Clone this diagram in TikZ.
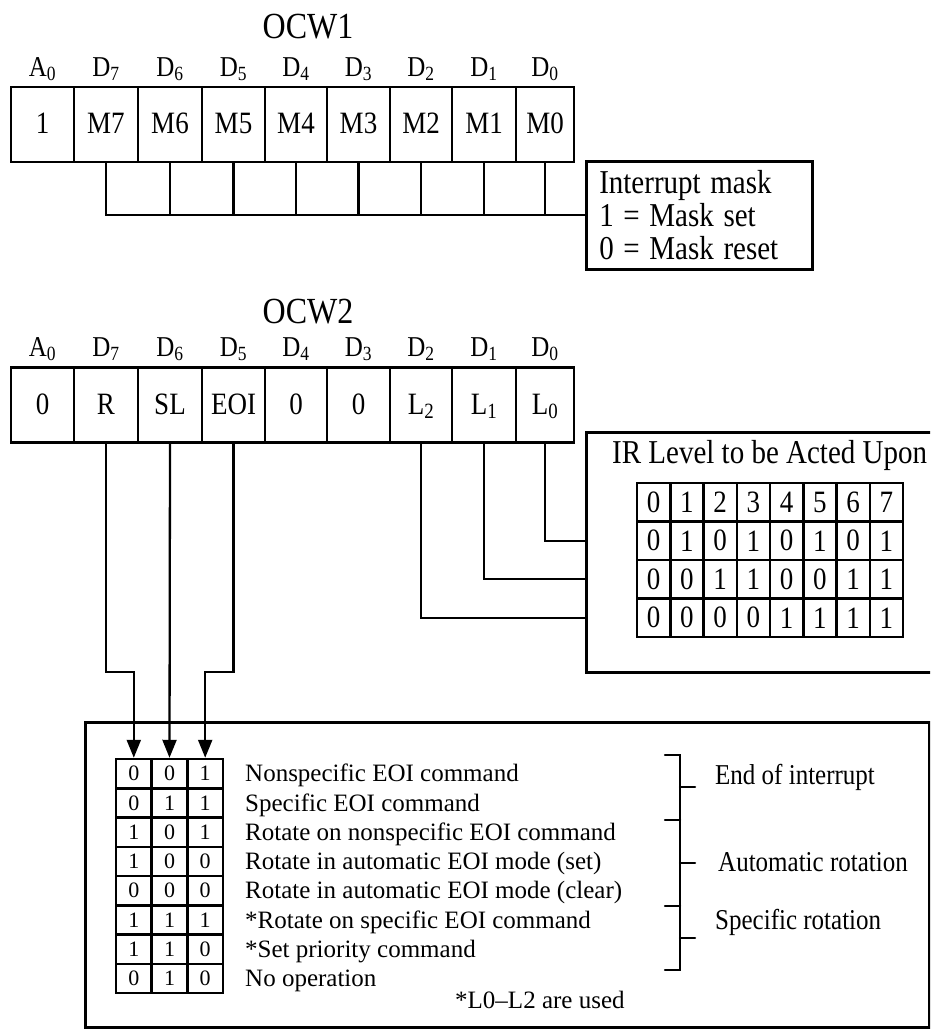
\documentclass[tikz,border=0pt]{standalone}
\usepackage{fontspec}
\setmainfont{Liberation Serif}
\usetikzlibrary{arrows.meta,calc}
\newcommand\vst[1]{\scalebox{1}[1.15]{#1}}
\tikzset{
  box/.style={draw, line width=2.5pt, inner sep=0pt},
  cell/.style={draw, line width=2.5pt, inner sep=0pt, minimum height=75pt,
    text height=18pt, text depth=0pt, font=\fontsize{27}{30}\selectfont},
  bitlab/.style={anchor=base, inner sep=0pt, font=\fontsize{25}{27}\selectfont},
  title/.style={anchor=base, inner sep=0pt, font=\fontsize{32}{36}\selectfont},
  wire/.style={line width=2.3pt},
  arrowline/.style={line width=2.3pt, -{Triangle[length=18pt,width=14pt]}},
  tcell/.style={draw, line width=2.5pt, inner sep=0pt, minimum width=35.67pt,
    minimum height=29.25pt, font=\fontsize{22}{24}\selectfont},
  ircell/.style={draw, line width=2.5pt, inner sep=0pt, minimum width=33.25pt,
    minimum height=38.5pt, font=\fontsize{27}{30}\selectfont},
  legtxt/.style={anchor=base west, inner sep=0pt, font=\fontsize{25}{28}\selectfont},
  brace/.style={line width=2.5pt, line cap=round},
}
\begin{document}
\begin{tikzpicture}[x=1pt,y=-1pt]
\useasboundingbox (0,0) rectangle (930,1029);
\clip (0,0) rectangle (930,1029);

% titles
\node[title] (ocw1) at (308,38) {\vst{OCW1}};
\node[title] (ocw2) at (308,323) {\vst{OCW2}};

% registers
\foreach \i/\l/\r/\L/\s/\a/\b in {
  0/11/74/A/0/1/0,
  1/74/138/D/7/M7/R,
  2/138/202/D/6/M6/SL,
  3/202/265/D/5/M5/EOI,
  4/265/327/D/4/M4/0,
  5/327/390/D/3/M3/0,
  6/390/452/D/2/M2/L\textsubscript{2},
  7/452/516/D/1/M1/L\textsubscript{1},
  8/516/574/D/0/M0/L\textsubscript{0}}{
  \node[cell, minimum width={(\r-\l)*1pt}] (p\i) at ({(\l+\r)/2},124.5) {\vst{\a}};
  \node[bitlab] (pl\i) at ({(\l+\r)/2},76) {\vst{\L\textsubscript{\s}}};
  \node[cell, minimum width={(\r-\l)*1pt}] (q\i) at ({(\l+\r)/2},405) {\vst{\b}};
  \node[bitlab] (ql\i) at ({(\l+\r)/2},356) {\vst{\L\textsubscript{\s}}};
}

% interrupt mask box
\node[box, anchor=north west, text width=200pt, inner xsep=13pt,
  minimum height=108pt, align=left, font=\fontsize{29}{33}\selectfont]
  (mask) at (585,160) {\vst{Interrupt mask}\\\vst{1 = Mask set}\\\vst{0 = Mask reset}};

\draw[wire] (p1.south) |- (mask.west);
\foreach \i in {2,...,8}{
  \draw[wire] (p\i.south) -- (p\i.south |- mask.west);
}

% IR level box
\node[box, anchor=north west, minimum width=360pt, minimum height=240pt]
  (irbox) at (585,431) {};
\node[anchor=base west, inner sep=0pt, font=\fontsize{29}{33}\selectfont]
  (irtitle) at (612,463) {\vst{IR Level to be Acted Upon}};
\foreach \c in {0,...,7}{
  \pgfmathsetmacro\xc{637+33.25*(\c+0.5)}
  \pgfmathtruncatemacro\bA{mod(\c,2)}
  \pgfmathtruncatemacro\bB{mod(floor(\c/2),2)}
  \pgfmathtruncatemacro\bC{floor(\c/4)}
  \node[ircell] (ir-1-\c) at (\xc,502.25) {\vst{\c}};
  \node[ircell] (ir-2-\c) at (\xc,540.75) {\vst{\bA}};
  \node[ircell] (ir-3-\c) at (\xc,579.25) {\vst{\bB}};
  \node[ircell] (ir-4-\c) at (\xc,617.75) {\vst{\bC}};
}
\draw[wire] (q8.south) |- (ir-2-0.west -| irbox.west);
\draw[wire] (q7.south) |- (ir-3-0.west -| irbox.west);
\draw[wire] (q6.south) |- (ir-4-0.west -| irbox.west);

% legend box
\node[box, anchor=north west, minimum width=844pt, minimum height=305pt]
  (legend) at (84,721) {};

\foreach \r/\x/\y/\z/\t in {
  1/0/0/1/Nonspecific EOI command,
  2/0/1/1/Specific EOI command,
  3/1/0/1/Rotate on nonspecific EOI command,
  4/1/0/0/Rotate in automatic EOI mode (set),
  5/0/0/0/Rotate in automatic EOI mode (clear),
  6/1/1/1/*Rotate on specific EOI command,
  7/1/1/0/*Set priority command,
  8/0/1/0/No operation}{
  \pgfmathsetmacro\yc{759+29.25*(\r-0.5)}
  \node[tcell] (t\r-1) at (133.8,\yc) {\x};
  \node[tcell] (t\r-2) at (169.5,\yc) {\y};
  \node[tcell] (t\r-3) at (205.2,\yc) {\z};
  \node[legtxt] (txt\r) at (245,\yc+8.3) {\t};
}
\node[legtxt] (note) at (455,1008) {*L0--L2 are used};

% arrows into truth table
\draw[arrowline] (q1.south) |- ($(t1-1.north)+(0,-86)$) -- (t1-1.north);
\draw[arrowline] (q2.south) -- (t1-2.north);
\draw[arrowline] (q3.south) |- ($(t1-3.north)+(0,-86)$) -- (t1-3.north);

% brackets
\draw[brace] (665,755) -- (680,755) -- (680,970) -- (665,970);
\draw[brace] (665,820) -- (680,820) (665,906) -- (680,906)
  (680,787) -- (695,787) (680,863) -- (695,863) (680,938) -- (695,938);
\node[legtxt] (eoi) at (715,784) {\vst{End of interrupt}};
\node[legtxt] (autorot) at (718,871) {\vst{Automatic rotation}};
\node[legtxt] (specrot) at (715,929) {\vst{Specific rotation}};
\end{tikzpicture}
\end{document}
